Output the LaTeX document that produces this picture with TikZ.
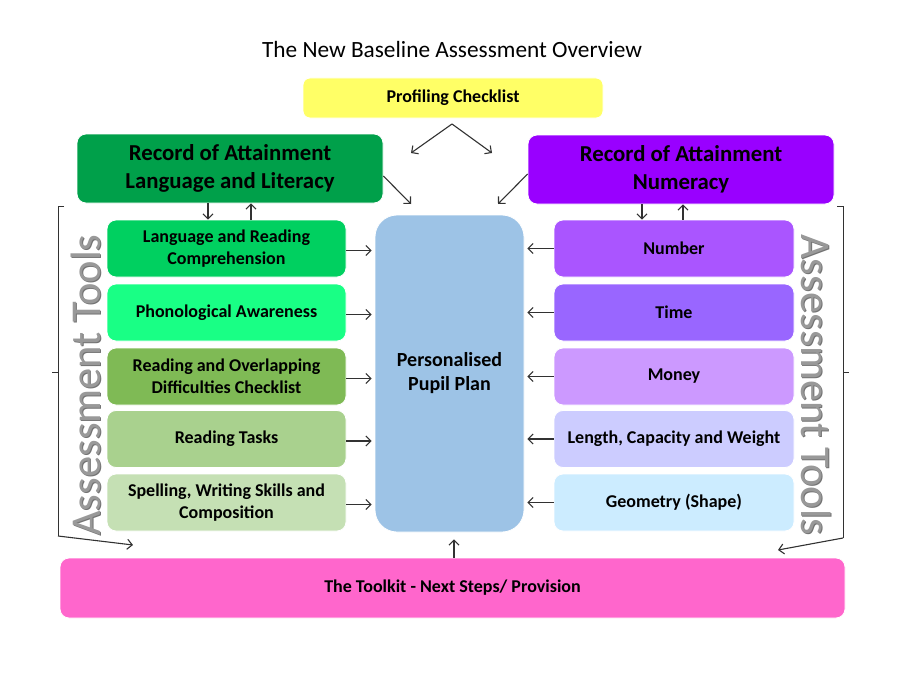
\documentclass[tikz,border=0pt]{standalone}
\usepackage{fontspec}
\setmainfont{Carlito}
\usetikzlibrary{calc}
\usetikzlibrary{positioning}
\usetikzlibrary{arrows.meta}
\definecolor{prof-yellow}{RGB}{255, 255, 102}
\definecolor{record-green}{RGB}{0, 160, 74}
\definecolor{record-violet}{RGB}{153, 0, 255}
\definecolor{lang-one}{RGB}{0, 208, 96}
\definecolor{lang-two}{RGB}{25, 255, 133}
\definecolor{lang-three}{RGB}{127, 186, 85}
\definecolor{lang-four}{RGB}{169, 209, 142}
\definecolor{lang-five}{RGB}{197, 224, 180}
\definecolor{num-one}{RGB}{170, 85, 255}
\definecolor{num-two}{RGB}{153, 102, 255}
\definecolor{num-three}{RGB}{204, 153, 255}
\definecolor{num-four}{RGB}{204, 204, 255}
\definecolor{num-five}{RGB}{204, 236, 255}
\definecolor{plan-blue}{RGB}{157, 195, 230}
\definecolor{toolkit-pink}{RGB}{255, 102, 204}
\definecolor{line-grey}{RGB}{50, 50, 50}

\begin{document}
\begin{tikzpicture}[x=1pt, y=-1pt,
    box/.style={rounded corners=9pt, draw=white, line width=0.8pt, align=center,
                inner sep=0pt, font=\bfseries\fontsize{18}{22}\selectfont},
    recbox/.style={box, minimum width=306pt, minimum height=69pt,
                   font=\bfseries\fontsize{22.8}{28}\selectfont},
    langbox/.style={box, minimum width=239pt, minimum height=57pt},
    numbox/.style={box, minimum width=240pt, minimum height=57pt},
    arr/.style={-{Straight Barb[length=5pt, width=10pt]}, draw=line-grey, line width=1.1pt},
    tooltext/.style={font=\fontsize{42.5}{42.5}\selectfont, inner sep=0pt}]
\useasboundingbox[fill=white] (0,0) rectangle (900,693);

\node[font=\fontsize{23.3}{28}\selectfont] (title) at (452,49) {The New Baseline Assessment Overview};

\node[box, fill=prof-yellow, minimum width=300pt, minimum height=40pt, rounded corners=7pt] (prof) at (453,98) {Profiling Checklist};
\node[recbox, fill=record-green] (recL) at (230,168.5) {Record of Attainment\\Language and Literacy};
\node[recbox, fill=record-violet] (recR) at (681,169.5) {Record of Attainment\\Numeracy};

\node[langbox, fill=lang-one] (l1) at (226.5,248.5) {Language and Reading\\Comprehension};
\node[langbox, fill=lang-two] (l2) at (226.5,312.5) {Phonological Awareness};
\node[langbox, fill=lang-three] (l3) at (226.5,376.5) {Reading and Overlapping\\Difficulties Checklist};
\node[langbox, fill=lang-four] (l4) at (226.5,439) {Reading Tasks};
\node[langbox, fill=lang-five] (l5) at (226.5,502.5) {Spelling, Writing Skills and\\Composition};

\node[numbox, fill=num-one] (n1) at (674,248.5) {Number};
\node[numbox, fill=num-two] (n2) at (674,312.5) {Time};
\node[numbox, fill=num-three] (n3) at (674,376.5) {Money};
\node[numbox, fill=num-four] (n4) at (674,439) {Length, Capacity and Weight};
\node[numbox, fill=num-five] (n5) at (674,502.5) {Geometry (Shape)};

\node[box, fill=plan-blue, minimum width=149pt, minimum height=317pt, rounded corners=22pt,
      font=\bfseries\fontsize{20}{24}\selectfont] (plan) at (449.5,373.5) {Personalised\\Pupil Plan};
\node[box, fill=toolkit-pink, minimum width=785pt, minimum height=60pt] (tool) at (452.5,588) {The Toolkit - Next Steps/ Provision};

% profiling checklist arrows
\coordinate (apex) at (452,124);
\coordinate (profL) at (411,153);
\coordinate (profR) at (492,153);
\draw[arr] (apex) -- (profL);
\draw[arr] (apex) -- (profR);

% records to plan
\coordinate (recLend) at (411,204);
\coordinate (recRend) at (498,204);
\draw[arr] ([yshift=-7.5pt]recL.east) -- (recLend);
\draw[arr] ([yshift=-4.5pt]recR.west) -- (recRend);

% records to first boxes and back
\draw[arr] ([xshift=-22pt]recL.south) -- ([xshift=-22pt]recL.south |- l1.north);
\draw[arr] ([xshift=21pt]recL.south |- l1.north) -- ([xshift=21pt]recL.south);
\draw[arr] ([xshift=-39pt]recR.south) -- ([xshift=-39pt]recR.south |- n1.north);
\draw[arr] ([xshift=2pt]recR.south |- n1.north) -- ([xshift=2pt]recR.south);

% assessment tools to plan
\foreach \i in {1,...,5} {
  \draw[arr, shorten >=3pt] ([yshift=-2pt]l\i.east) -- ([yshift=-2pt]l\i.east -| plan.west);
  \draw[arr, shorten >=3pt] (n\i.west) -- (n\i.west -| plan.east);
}

% toolkit up to plan
\draw[arr, shorten >=7pt] ([xshift=1.5pt]tool.north) -- ([xshift=1.5pt]tool.north |- plan.south);

% brackets
\coordinate (bracketL) at (133,545);
\coordinate (bracketR) at (778,550);
\draw[line-grey, line width=1pt] (64,206) -- (58,206) -- (58,536);
\draw[line-grey, line width=1pt] (58,372) -- (52,372);
\draw[arr] (58,536) -- (bracketL);
\draw[line-grey, line width=1pt] (837,206) -- (843,206) -- (843,538);
\draw[line-grey, line width=1pt] (843,372) -- (849,372);
\draw[arr] (843,538) -- (bracketR);

% side labels
\node[tooltext, rotate=90, text=black!55] (toolsLs) at (87,386) {Assessment Tools};
\node[tooltext, rotate=90, text=black!40] (toolsL) at (86,385) {Assessment Tools};
\node[tooltext, rotate=-90, text=black!55] (toolsRs) at (817,386) {Assessment Tools};
\node[tooltext, rotate=-90, text=black!40] (toolsR) at (816,385) {Assessment Tools};
\end{tikzpicture}
\end{document}
